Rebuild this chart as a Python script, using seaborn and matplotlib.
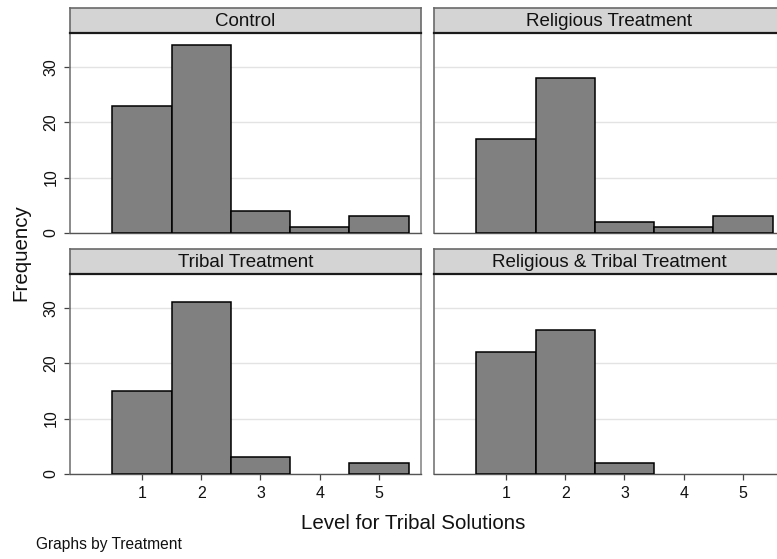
import numpy as np
import pandas as pd
import matplotlib
matplotlib.use("Agg")
import matplotlib.pyplot as plt
import seaborn as sns

# Frequencies of each level, one list per treatment group
levels = [1, 2, 3, 4, 5]
treatments = ["Control", "Religious Treatment", "Tribal Treatment",
              "Religious & Tribal Treatment"]
control = [23, 34, 4, 1, 3]
religious = [17, 28, 2, 1, 3]
tribal = [15, 31, 3, 0, 2]
religious_tribal = [22, 26, 2, 0, 0]
y_ticks = [0, 10, 20, 30]
x_ticks = [1, 2, 3, 4, 5]

df = pd.DataFrame({
    "treatment": np.repeat(treatments, len(levels)),
    "level": levels * len(treatments),
    "count": control + religious + tribal + religious_tribal,
})

sns.set_theme(style="white")
plt.rcParams["font.family"] = ["Liberation Sans", "DejaVu Sans"]
plt.rcParams["text.color"] = "#111111"

W, H = 777, 559
fig = plt.figure(figsize=(W / 100, H / 100), dpi=100)
fig.patch.set_facecolor("white")


def rect(x, top, w, h):
    return [x / W, 1 - (top + h) / H, w / W, h / H]


cols = [70, 434]
rows = [33, 274]
pw, ph, sh = 351, 200, 25

for i, name in enumerate(treatments):
    r, c = divmod(i, 2)
    ax = fig.add_axes(rect(cols[c], rows[r], pw, ph))
    sub = df[df["treatment"] == name]
    sns.histplot(data=sub, x="level", weights="count", discrete=True,
                 color="#808080", edgecolor="black", linewidth=1.1,
                 alpha=1, ax=ax, zorder=3)
    # empty bins show no bar
    for p in ax.patches:
        if p.get_height() == 0:
            p.set_visible(False)

    ax.set_xlim(-0.215, 5.709)
    ax.set_ylim(0, 36.1)
    ax.set_xticks(x_ticks)
    ax.set_yticks(y_ticks)
    ax.set_xlabel("")
    ax.set_ylabel("")
    ax.set_axisbelow(True)
    ax.yaxis.grid(True, color="#e3e3e3", linewidth=1.0)
    ax.xaxis.grid(False)
    ax.set_facecolor("white")

    ax.spines["top"].set_visible(False)
    ax.spines["left"].set_color("#777777")
    ax.spines["left"].set_linewidth(1.2)
    ax.spines["right"].set_color("#8a8a8a")
    ax.spines["right"].set_linewidth(1.2)
    ax.spines["bottom"].set_color("#555555")
    ax.spines["bottom"].set_linewidth(1.0)

    ax.tick_params(axis="both", colors="#444444", labelcolor="#111111",
                   length=4.3, width=0.9, labelsize=11.5, pad=4)
    ax.tick_params(axis="y", labelrotation=90)
    for lab in ax.get_yticklabels():
        lab.set_va("center")
    if r == 0:
        ax.tick_params(axis="x", bottom=False, labelbottom=False)
    else:
        ax.tick_params(axis="x", bottom=True, labelbottom=True)
    if c == 1:
        ax.tick_params(axis="y", left=False, labelleft=False)
    else:
        ax.tick_params(axis="y", left=True, labelleft=True)

    # panel title strip
    sax = fig.add_axes(rect(cols[c], rows[r] - sh, pw, sh))
    sax.set_facecolor("#d4d4d4")
    sax.set_xticks([])
    sax.set_yticks([])
    for side in ["top", "left", "right"]:
        sax.spines[side].set_color("#6a6a6a")
        sax.spines[side].set_linewidth(1.2)
    sax.spines["bottom"].set_color("#1a1a1a")
    sax.spines["bottom"].set_linewidth(1.6)
    sax.text(0.5, 0.47, name, transform=sax.transAxes,
             ha="center", va="center", fontsize=13.5)

fig.text(413 / W, 1 - 529 / H, "Level for Tribal Solutions",
         ha="center", va="baseline", fontsize=14.8)
fig.text(21 / W, 1 - 253 / H, "Frequency", rotation=90,
         ha="center", va="center", fontsize=14.8)
fig.text(36 / W, 1 - 549 / H, "Graphs by Treatment",
         ha="left", va="baseline", fontsize=11.2)

fig.savefig("out.png", dpi=100, facecolor="white")
